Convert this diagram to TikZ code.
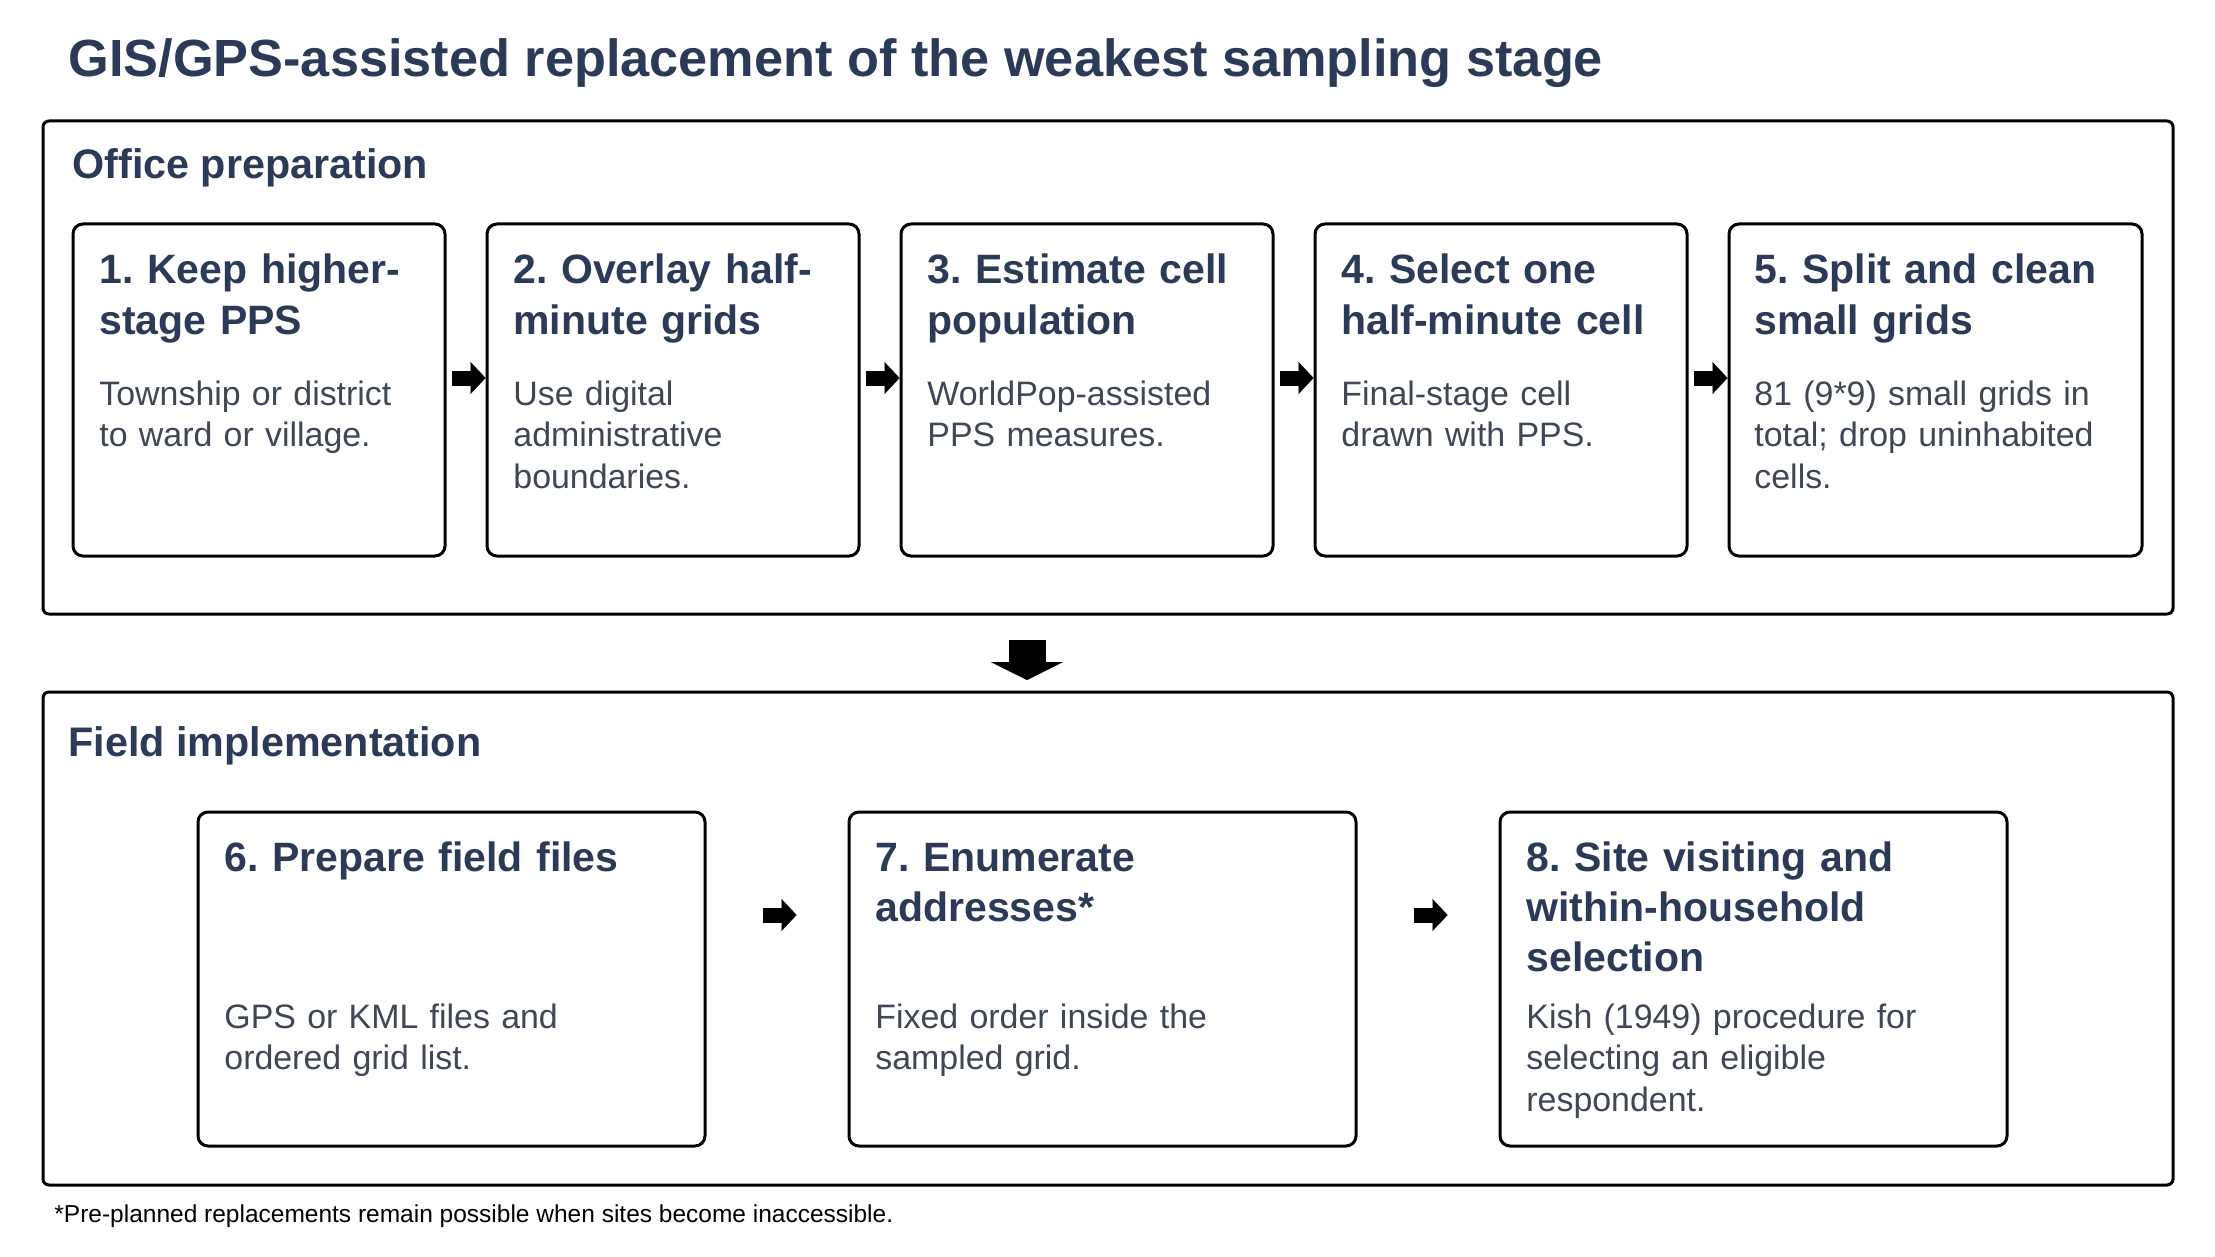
\documentclass[tikz,border=0pt]{standalone}
\usepackage{fontspec}
\setmainfont{Liberation Sans}
\usetikzlibrary{arrows.meta}
\definecolor{headnavy}{HTML}{2B3A57}
\definecolor{bodygrey}{HTML}{3E4753}
\frenchspacing

\begin{document}
\begin{tikzpicture}[x=0.5pt, y=-0.5pt,
    stagebox/.style={draw, line width=1.5pt, rounded corners=3pt, minimum width=1065pt, minimum height=246.5pt},
    stagelabel/.style={anchor=base west, inner sep=0pt, text=headnavy, font=\bfseries\fontsize{20.65pt}{25pt}\selectfont},
    stepbox/.style={draw, line width=1.5pt, rounded corners=5pt},
    steptitle/.style={anchor=base west, inner sep=0pt, text width=240pt, align=left, text=headnavy, font=\bfseries\fontsize{20.5pt}{25pt}\selectfont},
    steptext/.style={anchor=base west, inner sep=0pt, text width=240pt, align=left, text=bodygrey, font=\fontsize{16.95pt}{20.75pt}\selectfont},
    flowarrow/.style={line width=7.5pt, -{Triangle[length=7.5pt, width=16pt, line width=0.1pt]}}]
    \fill[white] (0,0) rectangle (2215,1257);
    \useasboundingbox (0,0) rectangle (2215,1257);

    \node[anchor=base west, inner sep=0pt, text=headnavy, font=\bfseries\fontsize{26.15pt}{31pt}\selectfont] (title) at (68,77) {GIS/GPS-assisted replacement of the weakest sampling stage};

    \node[stagebox] (office) at (1108,367.5) {};
    \node[stagebox] (field) at (1108,938.5) {};
    \node[stagelabel] (officelbl) at (72,179) {Office preparation};
    \node[stagelabel] (fieldlbl) at (68,756) {Field implementation};

    % office steps
    \node[stepbox, minimum width=186pt, minimum height=166pt] (s1) at (259,390) {};
    \node[stepbox, minimum width=186pt, minimum height=166pt] (s2) at (673,390) {};
    \node[stepbox, minimum width=186pt, minimum height=166pt] (s3) at (1087,390) {};
    \node[stepbox, minimum width=186pt, minimum height=166pt] (s4) at (1501,390) {};
    \node[stepbox, minimum width=206.5pt, minimum height=166pt] (s5) at (1935.5,390) {};

    \node[steptitle] (t1) at (99,284) {1. Keep higher-\\stage PPS};
    \node[steptext] (d1) at (99,405) {Township or district\\to ward or village.};
    \node[steptitle] (t2) at (513,284) {2. Overlay half-\\minute grids};
    \node[steptext] (d2) at (513,405) {Use digital\\administrative\\boundaries.};
    \node[steptitle] (t3) at (927,284) {3. Estimate cell\\population};
    \node[steptext] (d3) at (927,405) {WorldPop-assisted\\PPS measures.};
    \node[steptitle] (t4) at (1341,284) {4. Select one\\half-minute cell};
    \node[steptext] (d4) at (1341,405) {Final-stage cell\\drawn with PPS.};
    \node[steptitle] (t5) at (1754,284) {5. Split and clean\\small grids};
    \node[steptext] (d5) at (1754,405) {81 (9*9) small grids in\\total; drop uninhabited\\cells.};

    \draw[flowarrow] ([xshift=2.75pt, yshift=6pt]s1.east) -- ([yshift=6pt]s2.west);
    \draw[flowarrow] ([xshift=2.75pt, yshift=6pt]s2.east) -- ([yshift=6pt]s3.west);
    \draw[flowarrow] ([xshift=2.75pt, yshift=6pt]s3.east) -- ([yshift=6pt]s4.west);
    \draw[flowarrow] ([xshift=2.75pt, yshift=6pt]s4.east) -- ([yshift=6pt]s5.west);

    % from office to field
    \coordinate (downtop) at (1027,640);
    \coordinate (downtip) at (1027,680);
    \draw[line width=18.5pt, -{Triangle[length=9pt, width=36pt, line width=0.1pt]}] (downtop) -- (downtip);

    % field steps
    \node[stepbox, minimum width=253.5pt, minimum height=167pt] (s6) at (451.5,979) {};
    \node[stepbox, minimum width=253.5pt, minimum height=167pt] (s7) at (1102.5,979) {};
    \node[stepbox, minimum width=253.5pt, minimum height=167pt] (s8) at (1753.5,979) {};

    \node[steptitle] (t6) at (224,871) {6. Prepare field files};
    \node[steptext] (d6) at (224,1028) {GPS or KML files and\\ordered grid list.};
    \node[steptitle] (t7) at (875,871) {7. Enumerate\\addresses*};
    \node[steptext] (d7) at (875,1028) {Fixed order inside the\\sampled grid.};
    \node[steptitle] (t8) at (1526,871) {8. Site visiting and\\within-household\\selection};
    \node[steptext] (d8) at (1526,1028) {Kish (1949) procedure for\\selecting an eligible\\respondent.};

    \draw[flowarrow] ([xshift=28pt, yshift=32pt]s6.east) -- ([xshift=-25.5pt, yshift=32pt]s7.west);
    \draw[flowarrow] ([xshift=28pt, yshift=32pt]s7.east) -- ([xshift=-25.5pt, yshift=32pt]s8.west);

    \node[anchor=base west, inner sep=0pt, font=\fontsize{12.25pt}{15pt}\selectfont] (note) at (54,1222) {*Pre-planned replacements remain possible when sites become inaccessible.};
\end{tikzpicture}
\end{document}
